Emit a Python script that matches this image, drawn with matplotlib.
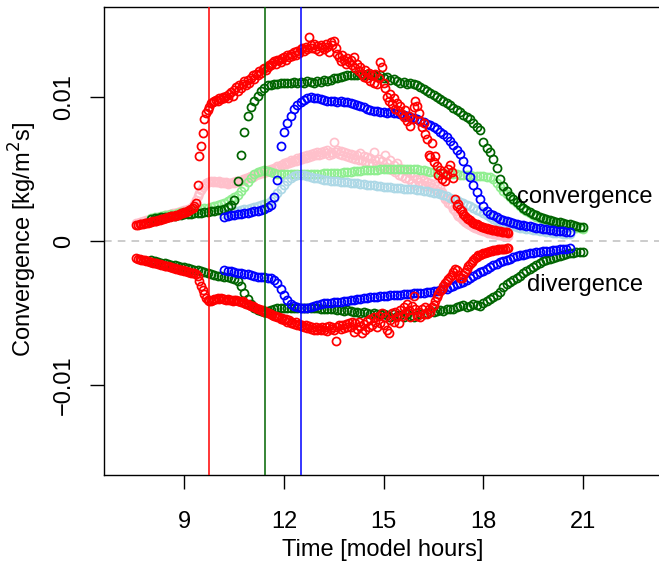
import numpy as np
import matplotlib
matplotlib.use("Agg")
import matplotlib.pyplot as plt

plt.rcParams["font.family"] = ["Liberation Sans", "DejaVu Sans"]
plt.rcParams["font.size"] = 17

# Moisture convergence / divergence time series, values in 1e-3 kg/(m^2 s)
# Each series: first output time [h], output interval [h], values
red_start, red_step = 7.55, 0.05
red_conv = [
    1.12, 1.14, 1.16, 1.18, 1.20, 1.23, 1.25, 1.28, 1.30, 1.33,
    1.36, 1.39, 1.42, 1.45, 1.48, 1.52, 1.55, 1.58, 1.61, 1.64,
    1.67, 1.71, 1.74, 1.77, 1.80, 1.84, 1.87, 1.91, 1.95, 1.99,
    2.03, 2.08, 2.13, 2.19, 2.27, 2.40, 2.62, 3.90, 5.90, 6.60,
    7.50, 8.50, 8.90, 9.10, 9.30, 9.55, 9.65, 9.70, 9.80, 9.75,
    9.90, 9.85, 10.00, 9.90, 10.10, 9.95, 10.20, 10.35, 10.10, 10.50,
    10.70, 10.40, 10.85, 10.60, 10.90, 11.10, 10.80, 11.20, 11.00, 11.35,
    11.50, 11.25, 11.60, 11.55, 11.80, 11.70, 11.95, 12.00, 11.85, 12.10,
    12.25, 12.20, 12.35, 12.50, 12.30, 12.55, 12.60, 12.45, 12.70, 12.80,
    12.60, 12.90, 12.75, 13.00, 12.85, 13.10, 12.90, 13.20, 13.05, 13.30,
    13.40, 13.20, 13.50, 13.35, 14.20, 13.60, 13.40, 13.70, 13.30, 13.55,
    13.20, 13.60, 13.45, 13.30, 13.70, 13.50, 13.10, 13.80, 13.60, 13.90,
    13.40, 13.00, 12.80, 12.50, 12.90, 12.60, 12.30, 12.70, 12.40, 12.60,
    12.20, 12.80, 12.00, 12.30, 11.80, 12.10, 11.60, 11.40, 11.90, 11.30,
    11.70, 11.10, 11.50, 11.00, 11.60, 10.90, 11.30, 12.40, 12.10, 11.00,
    10.60, 10.00, 9.70, 10.20, 9.50, 9.90, 9.20, 9.60, 9.00, 9.40,
    8.80, 8.60, 9.10, 8.30, 8.70, 8.00, 8.50, 9.30, 9.70, 9.40,
    8.90, 8.30, 7.90, 8.20, 7.40, 7.10, 6.00, 5.80, 6.80, 5.50,
    5.90, 5.20, 4.60, 4.90, 4.30, 4.70, 4.20, 4.60, 5.00, 5.30,
    4.80, 4.40, 2.90, 2.40, 2.60, 2.20, 2.05, 1.90, 1.75, 1.62,
    1.52, 1.43, 1.35, 1.28, 1.21, 1.15, 1.09, 1.04, 0.99, 0.95,
    0.91, 0.87, 0.84, 0.81, 0.78, 0.76, 0.73, 0.71, 0.69, 0.67,
    0.65, 0.63, 0.62, 0.60, 0.58,
]
pink_conv = [
    1.25, 1.28, 1.31, 1.34, 1.37, 1.40, 1.43, 1.46, 1.49, 1.52,
    1.55, 1.58, 1.61, 1.64, 1.67, 1.70, 1.73, 1.76, 1.79, 1.82,
    1.85, 1.88, 1.91, 1.94, 1.97, 2.00, 2.03, 2.06, 2.09, 2.12,
    2.16, 2.20, 2.25, 2.32, 2.42, 2.60, 2.85, 3.10, 3.35, 3.55,
    3.75, 3.90, 4.00, 4.08, 4.12, 4.15, 4.10, 4.18, 4.12, 4.08,
    4.15, 4.05, 4.10, 4.02, 4.08, 3.98, 4.05, 4.00, 4.10, 4.05,
    4.15, 4.08, 4.20, 4.15, 4.30, 4.25, 4.40, 4.35, 4.45, 4.50,
    4.42, 4.60, 4.55, 4.70, 4.65, 4.78, 4.72, 4.85, 4.80, 4.92,
    4.88, 5.00, 4.95, 5.10, 5.05, 5.20, 5.15, 5.30, 5.25, 5.40,
    5.35, 5.50, 5.42, 5.60, 5.50, 5.65, 5.58, 5.75, 5.62, 5.80,
    5.70, 5.90, 5.78, 5.95, 5.85, 6.05, 5.90, 6.10, 5.95, 6.15,
    6.00, 6.20, 6.05, 6.25, 6.10, 6.30, 6.00, 6.20, 6.05, 6.90,
    6.15, 6.30, 6.05, 6.25, 5.95, 6.20, 5.90, 6.10, 5.80, 6.05,
    5.75, 6.00, 5.70, 5.95, 5.60, 6.10, 5.65, 5.90, 5.50, 5.80,
    5.45, 5.75, 5.40, 6.20, 5.60, 5.30, 5.70, 5.20, 5.55, 5.10,
    6.00, 5.40, 5.00, 5.60, 4.90, 5.30, 4.80, 5.45, 4.60, 5.10,
    4.50, 4.95, 4.40, 4.85, 4.30, 4.70, 4.00, 4.50, 3.90, 4.30,
    4.10, 4.35, 3.95, 4.25, 3.85, 4.10, 3.80, 4.05, 3.75, 3.95,
    3.60, 3.85, 3.50, 3.70, 3.40, 3.20, 2.95, 2.90, 2.65, 2.60,
    2.40, 2.25, 2.05, 1.90, 1.75, 1.65, 1.55, 1.45, 1.35, 1.27,
    1.19, 1.12, 1.05, 0.99, 0.93, 0.88, 0.83, 0.78, 0.74, 0.70,
    0.66, 0.62, 0.59, 0.56, 0.53, 0.50, 0.48, 0.46, 0.44, 0.42,
    0.40, 0.38, 0.36, 0.35, 0.34,
]
red_div = [
    -1.20, -1.23, -1.26, -1.29, -1.32, -1.35, -1.38, -1.41, -1.44, -1.47,
    -1.50, -1.53, -1.56, -1.59, -1.62, -1.65, -1.68, -1.71, -1.74, -1.77,
    -1.80, -1.83, -1.86, -1.89, -1.92, -1.95, -1.98, -2.01, -2.04, -2.07,
    -2.10, -2.13, -2.16, -2.19, -2.22, -2.25, -2.30, -2.45, -2.75, -3.10,
    -3.40, -3.70, -3.95, -4.10, -4.20, -4.15, -4.10, -4.05, -4.00, -3.95,
    -4.00, -3.95, -4.05, -4.00, -4.10, -4.05, -4.10, -4.08, -4.15, -4.10,
    -4.12, -4.20, -4.15, -4.25, -4.20, -4.30, -4.35, -4.40, -4.45, -4.50,
    -4.52, -4.60, -4.62, -4.70, -4.72, -4.80, -4.82, -4.90, -4.92, -5.00,
    -5.02, -5.10, -5.12, -5.20, -5.20, -5.30, -5.28, -5.40, -5.35, -5.50,
    -5.45, -5.60, -5.50, -5.70, -5.60, -5.75, -5.65, -5.85, -5.75, -5.90,
    -5.80, -6.00, -5.85, -6.05, -5.90, -6.10, -5.95, -6.15, -6.00, -6.20,
    -6.05, -6.15, -5.95, -6.20, -6.00, -6.25, -5.90, -6.10, -5.95, -6.20,
    -6.95, -6.00, -5.80, -6.10, -5.85, -6.05, -5.75, -6.00, -5.70, -5.95,
    -5.65, -6.30, -5.70, -6.10, -5.60, -5.90, -6.40, -5.75, -6.20, -5.55,
    -5.95, -5.40, -5.80, -5.30, -5.60, -6.00, -5.20, -5.70, -5.00, -5.85,
    -5.30, -6.20, -6.40, -5.50, -5.00, -5.60, -4.90, -5.30, -5.70, -4.80,
    -5.20, -4.60, -5.00, -4.40, -4.80, -5.30, -4.50, -3.85, -4.70, -5.20,
    -4.90, -5.30, -4.70, -5.10, -4.60, -5.05, -4.75, -4.95, -4.60, -4.45,
    -4.20, -3.90, -3.70, -3.45, -3.30, -3.10, -2.95, -2.80, -2.65, -2.50,
    -2.35, -2.15, -1.95, -2.00, -2.35, -2.60, -2.55, -2.35, -2.15, -1.95,
    -1.75, -1.60, -1.45, -1.30, -1.18, -1.08, -1.00, -0.94, -0.89, -0.84,
    -0.80, -0.76, -0.73, -0.70, -0.67, -0.65, -0.62, -0.60, -0.58, -0.56,
    -0.55, -0.54, -0.53, -0.52, -0.51,
]

green_start, green_step = 8.0, 0.1
green_conv = [
    1.55, 1.58, 1.61, 1.64, 1.67, 1.70, 1.73, 1.76, 1.79, 1.82,
    1.85, 1.87, 1.89, 1.91, 1.93, 1.96, 1.99, 2.02, 2.05, 2.08,
    2.12, 2.18, 2.25, 2.36, 2.52, 2.85, 4.20, 6.00, 7.60, 8.70,
    9.30, 9.75, 10.10, 10.40, 10.65, 10.80, 10.85, 10.90, 10.90, 10.95,
    11.00, 10.95, 11.00, 11.05, 11.00, 11.05, 11.00, 11.10, 11.05, 11.00,
    11.10, 11.05, 11.15, 11.10, 11.20, 11.30, 11.35, 11.40, 11.45, 11.50,
    11.55, 11.50, 11.55, 11.60, 11.55, 11.60, 11.50, 11.55, 11.45, 11.50,
    11.35, 11.40, 11.20, 11.25, 11.10, 11.00, 11.05, 10.90, 10.95, 10.90,
    10.80, 10.70, 10.55, 10.45, 10.30, 10.15, 10.00, 9.85, 9.75, 9.60,
    9.45, 9.25, 9.10, 8.95, 8.75, 8.60, 8.45, 8.20, 7.95, 7.70,
    6.85, 6.45, 6.20, 5.70, 5.10, 4.30, 3.80, 3.45, 3.15, 2.90,
    2.70, 2.50, 2.30, 2.15, 2.00, 1.90, 1.80, 1.70, 1.60, 1.52,
    1.45, 1.40, 1.35, 1.30, 1.25, 1.20, 1.15, 1.10, 1.05, 1.00,
    0.97,
]
lightgreen_conv = [
    1.62, 1.66, 1.70, 1.74, 1.78, 1.82, 1.86, 1.90, 1.94, 1.98,
    2.02, 2.06, 2.10, 2.14, 2.18, 2.22, 2.27, 2.32, 2.37, 2.42,
    2.48, 2.55, 2.65, 2.78, 2.92, 3.05, 3.20, 3.45, 3.75, 4.10,
    4.40, 4.62, 4.78, 4.86, 4.90, 4.85, 4.78, 4.72, 4.68, 4.66,
    4.65, 4.66, 4.64, 4.66, 4.65, 4.67, 4.65, 4.66, 4.64, 4.66,
    4.68, 4.67, 4.69, 4.70, 4.72, 4.71, 4.73, 4.75, 4.78, 4.80,
    4.82, 4.85, 4.88, 4.86, 4.90, 4.92, 4.95, 4.93, 4.96, 4.98,
    5.00, 4.97, 5.02, 5.00, 4.98, 5.03, 5.00, 4.97, 5.02, 4.98,
    5.00, 4.95, 4.90, 4.85, 4.82, 4.78, 4.75, 4.72, 4.70, 4.68,
    4.66, 4.64, 4.62, 4.60, 4.58, 4.56, 4.55, 4.53, 4.52, 4.50,
    4.48, 4.46, 4.44, 4.30, 4.05, 3.75, 3.50, 3.25, 3.05, 2.85,
    2.65, 2.45, 2.25, 2.10, 1.95, 1.82, 1.70, 1.60, 1.50, 1.42,
    1.35, 1.28, 1.22, 1.16, 1.10, 1.05, 1.00, 0.96, 0.92, 0.89,
    0.86,
]
green_div = [
    -1.35, -1.40, -1.45, -1.50, -1.55, -1.60, -1.65, -1.70, -1.74, -1.78,
    -1.83, -1.88, -1.93, -1.98, -2.03, -2.10, -2.18, -2.25, -2.30, -2.35,
    -2.40, -2.44, -2.48, -2.52, -2.58, -2.66, -2.80, -3.10, -3.60, -4.05,
    -4.40, -4.62, -4.78, -4.88, -4.90, -4.85, -4.78, -4.72, -4.68, -4.66,
    -4.65, -4.64, -4.66, -4.65, -4.64, -4.66, -4.65, -4.67, -4.66, -4.68,
    -4.67, -4.69, -4.70, -4.70, -4.72, -4.74, -4.76, -4.78, -4.85, -4.80,
    -4.88, -4.92, -4.95, -5.00, -4.96, -5.02, -5.05, -4.98, -5.08, -5.10,
    -5.05, -5.15, -5.30, -5.10, -5.20, -5.15, -5.25, -5.10, -5.20, -5.30,
    -5.15, -5.05, -5.10, -4.98, -4.95, -4.90, -4.85, -4.80, -4.85, -4.75,
    -4.70, -4.72, -4.60, -4.50, -4.45, -4.55, -4.48, -4.40, -4.45, -4.50,
    -4.30, -4.15, -4.05, -3.90, -3.75, -3.55, -3.20, -3.00, -2.85, -2.70,
    -2.55, -2.40, -2.25, -2.10, -1.95, -1.80, -1.65, -1.52, -1.42, -1.33,
    -1.25, -1.18, -1.10, -1.02, -0.96, -0.90, -0.86, -0.82, -0.79, -0.76,
    -0.74,
]

blue_start, blue_step = 10.2, 0.1
blue_conv = [
    1.70, 1.74, 1.78, 1.82, 1.85, 1.88, 1.91, 1.95, 2.00, 2.05,
    2.10, 2.17, 2.25, 2.38, 2.50, 3.05, 4.25, 6.60, 7.60, 8.20,
    8.70, 9.20, 9.45, 9.65, 9.80, 9.95, 10.00, 9.95, 9.90, 9.85,
    9.80, 9.75, 9.72, 9.70, 9.68, 9.70, 9.66, 9.62, 9.60, 9.52,
    9.45, 9.40, 9.30, 9.20, 9.12, 9.05, 9.00, 8.95, 8.95, 8.92,
    8.95, 8.90, 8.88, 8.80, 8.72, 8.68, 8.60, 8.52, 8.45, 8.35,
    8.25, 8.15, 8.05, 7.90, 7.75, 7.60, 7.40, 7.20, 6.95, 6.65,
    6.35, 6.05, 5.55, 5.00, 4.45, 3.90, 3.40, 2.90, 2.40, 2.05,
    1.90, 1.78, 1.65, 1.55, 1.45, 1.37, 1.30, 1.24, 1.19, 1.14,
    1.09, 1.05, 1.01, 0.97, 0.93, 0.89, 0.85, 0.82, 0.78, 0.75,
    0.72, 0.69, 0.66, 0.63, 0.60,
]
lightblue_conv = [
    1.90, 1.95, 2.00, 2.05, 2.10, 2.15, 2.20, 2.25, 2.30, 2.36,
    2.42, 2.48, 2.55, 2.65, 2.78, 3.00, 3.30, 3.60, 3.90, 4.15,
    4.35, 4.48, 4.55, 4.58, 4.55, 4.50, 4.45, 4.40, 4.35, 4.30,
    4.27, 4.24, 4.20, 4.17, 4.14, 4.12, 4.10, 4.07, 4.05, 4.02,
    4.00, 3.97, 3.95, 3.92, 3.90, 3.87, 3.84, 3.80, 3.78, 3.75,
    3.72, 3.70, 3.67, 3.65, 3.63, 3.61, 3.60, 3.58, 3.56, 3.52,
    3.48, 3.44, 3.40, 3.35, 3.30, 3.24, 3.18, 3.10, 3.02, 2.93,
    2.84, 2.74, 2.64, 2.53, 2.42, 2.30, 2.18, 2.05, 1.92, 1.78,
    1.64, 1.52, 1.41, 1.31, 1.22, 1.15, 1.08, 1.02, 0.97, 0.92,
    0.88, 0.84, 0.80, 0.77, 0.74, 0.71, 0.68, 0.65, 0.62, 0.59,
    0.56, 0.53, 0.51, 0.48, 0.46,
]
blue_div = [
    -2.00, -2.05, -2.10, -2.15, -2.20, -2.24, -2.28, -2.32, -2.38, -2.43,
    -2.47, -2.50, -2.53, -2.56, -2.60, -2.70, -2.95, -3.35, -3.75, -4.10,
    -4.35, -4.50, -4.58, -4.62, -4.65, -4.62, -4.55, -4.48, -4.42, -4.38,
    -4.33, -4.30, -4.28, -4.25, -4.23, -4.21, -4.19, -4.16, -4.12, -4.08,
    -4.05, -4.01, -3.98, -3.95, -3.92, -3.90, -3.87, -3.85, -3.82, -3.80,
    -3.78, -3.76, -3.74, -3.72, -3.70, -3.68, -3.66, -3.64, -3.62, -3.60,
    -3.58, -3.56, -3.54, -3.50, -3.46, -3.42, -3.36, -3.30, -3.22, -3.12,
    -3.02, -2.92, -2.82, -2.70, -2.58, -2.45, -2.32, -2.18, -2.05, -1.92,
    -1.80, -1.68, -1.58, -1.48, -1.39, -1.30, -1.22, -1.14, -1.06, -1.00,
    -0.95, -0.90, -0.86, -0.82, -0.78, -0.75, -0.72, -0.69, -0.66, -0.63,
    -0.60, -0.57, -0.55, -0.53, -0.51,
]

# Onset times of deep convection for the three runs [h]
onset_hours = [9.75, 11.42, 12.5]
onset_colors = ["red", "darkgreen", "blue"]

x_ticks = [9, 12, 15, 18, 21]
y_ticks = [-0.01, 0.0, 0.01]
y_tick_labels = ["\u22120.01", "0", "0.01"]


def hours(start, step, values):
    return start + step * np.arange(len(values))


W, H = 659, 568
fig = plt.figure(figsize=(W / 100, H / 100), dpi=100)
ax = fig.add_axes([104 / W, (H - 475) / H, (662 - 104) / W, (475 - 7) / H])

px_per_h = 33.2
x_left = 9 - (184.5 - 104) / px_per_h
x_right = 9 + (662 - 184.5) / px_per_h
ax.set_xlim(x_left, x_right)
ax.set_ylim(-0.01625, 0.01625)

mk = dict(ls="none", marker="o", mfc="none", ms=5.8, mew=1.25)
scale = 1e-3

series = [
    (red_start, red_step, pink_conv, "pink"),
    (green_start, green_step, lightgreen_conv, "lightgreen"),
    (blue_start, blue_step, lightblue_conv, "lightblue"),
    (green_start, green_step, green_conv, "darkgreen"),
    (green_start, green_step, green_div, "darkgreen"),
    (blue_start, blue_step, blue_conv, "blue"),
    (blue_start, blue_step, blue_div, "blue"),
    (red_start, red_step, red_conv, "red"),
    (red_start, red_step, red_div, "red"),
]
for i, (t0, dt, vals, col) in enumerate(series):
    ax.plot(hours(t0, dt, vals), np.asarray(vals) * scale, color=col,
            mec=col, zorder=2 + i * 0.01, **mk)

ax.axhline(0, color="#bebebe", lw=1.1, dashes=(5, 4), zorder=1)
for h, c in zip(onset_hours, onset_colors):
    ax.axvline(h, color=c, lw=1.1, zorder=5)

ax.text(21.06, 2.66e-3, "convergence", ha="center", va="baseline", zorder=6)
ax.text(21.06, -3.47e-3, "divergence", ha="center", va="baseline", zorder=6)

for sp in ax.spines.values():
    sp.set_linewidth(1.0)

ax.set_xticks(x_ticks, [str(v) for v in x_ticks])
ax.set_yticks(y_ticks, y_tick_labels)
ax.tick_params(direction="out", length=10, width=1.0)
ax.tick_params(axis="x", pad=28)
ax.tick_params(axis="y", pad=14.4)
for lbl in ax.get_xticklabels():
    lbl.set_verticalalignment("baseline")
for lbl in ax.get_yticklabels():
    lbl.set_rotation(90)
    lbl.set_rotation_mode("anchor")
    lbl.set_horizontalalignment("center")
    lbl.set_verticalalignment("baseline")

fig.text(383 / W, 1 - 556 / H, "Time [model hours]", ha="center", va="baseline")
fig.text(32 / W, 1 - 239 / H, r"Convergence [kg/m$^2$s]", rotation=90,
         rotation_mode="anchor", ha="center", va="baseline")

fig.savefig("out.png", dpi=100)
